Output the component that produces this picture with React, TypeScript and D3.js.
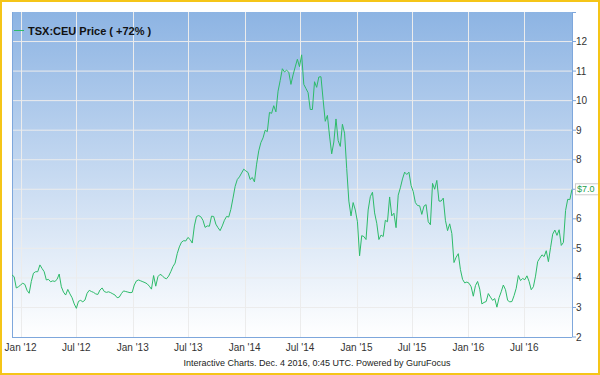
import React from "react";
import * as d3 from "d3";

// weekly closes, TSX:CEU, Dec 2011 - Dec 2016
const prices = [
  4.10, 4.04, 3.66, 3.70, 3.76, 3.82, 3.78, 3.58, 3.48, 3.88,
  4.16, 4.21, 4.21, 4.44, 4.32, 4.21, 3.93, 3.95, 3.87, 3.90,
  3.88, 3.95, 4.13, 3.70, 3.52, 3.42, 3.61, 3.46, 3.33, 3.12,
  2.97, 3.21, 3.24, 3.19, 3.25, 3.48, 3.58, 3.54, 3.51, 3.46,
  3.44, 3.59, 3.66, 3.54, 3.51, 3.53, 3.50, 3.46, 3.42, 3.33,
  3.35, 3.47, 3.56, 3.54, 3.52, 3.50, 3.51, 3.76, 3.90, 3.93,
  3.90, 3.87, 3.84, 3.80, 3.72, 3.62, 4.08, 3.72, 4.04, 4.12,
  4.08, 4.00, 3.97, 4.06, 4.21, 4.38, 4.50, 4.82, 5.05, 5.21,
  5.26, 5.25, 5.37, 5.30, 5.18, 5.76, 6.08, 6.11, 6.07, 5.95,
  5.71, 5.76, 5.75, 6.09, 6.08, 5.82, 5.70, 5.60, 5.76, 5.95,
  6.08, 6.06, 6.32, 6.70, 7.10, 7.33, 7.42, 7.55, 7.68, 7.62,
  7.57, 7.33, 7.40, 7.25, 7.85, 8.30, 8.58, 8.74, 9.00, 8.95,
  9.60, 9.57, 9.83, 9.62, 10.32, 10.68, 11.08, 10.97, 11.03, 10.96,
  10.55, 10.87, 11.14, 11.40, 11.15, 11.55, 10.55, 10.41, 10.27, 9.70,
  9.70, 10.64, 10.45, 10.80, 10.81, 10.03, 9.30, 9.50, 8.80, 8.20,
  8.60, 9.38, 8.65, 8.45, 9.20, 8.90, 7.70, 6.60, 6.10, 6.55,
  6.30, 5.90, 4.75, 5.43, 5.40, 5.30, 6.30, 6.75, 6.90, 6.20,
  5.85, 5.30, 5.45, 5.40, 5.95, 5.90, 6.74, 6.10, 6.19, 5.70,
  6.80, 7.05, 7.35, 7.58, 7.50, 7.58, 7.13, 6.92, 6.55, 6.45,
  6.44, 6.15, 6.43, 6.48, 5.90, 5.80, 7.20, 7.00, 7.30, 6.60,
  6.60, 6.70, 5.95, 5.60, 5.83, 5.50, 4.52, 4.70, 4.82, 4.28,
  3.95, 3.83, 3.86, 3.82, 3.70, 3.38, 3.74, 3.88, 3.62, 3.12,
  3.17, 3.20, 3.47, 3.35, 3.24, 3.30, 3.01, 3.33, 3.53, 3.76,
  3.60, 3.24, 3.19, 3.20, 3.40, 3.65, 4.08, 3.91, 3.98, 3.94,
  4.07, 3.88, 3.60, 3.70, 4.06, 4.55, 4.67, 4.78, 4.72, 4.92,
  4.55, 5.02, 5.48, 5.62, 5.44, 5.63, 5.10, 5.20, 6.28, 6.66,
  6.65, 7.00,
];

const xTickDates = [
  "2012-01-01", "2012-07-01", "2013-01-01", "2013-07-01", "2014-01-01",
  "2014-07-01", "2015-01-01", "2015-07-01", "2016-01-01", "2016-07-01",
];
const xTickLabels = [
  "Jan '12", "Jul '12", "Jan '13", "Jul '13", "Jan '14",
  "Jul '14", "Jan '15", "Jul '15", "Jan '16", "Jul '16",
];
const yTicks = [2, 3, 4, 5, 6, 7, 8, 9, 10, 11, 12];

const legendLabel = "TSX:CEU Price ( +72% )";
const lastLabel = "$7.0";
const footer = "Interactive Charts. Dec. 4 2016, 0:45 UTC. Powered by GuruFocus";

const W = 600;
const H = 375;
const plot = { left: 12, right: 572, top: 12, bottom: 337 };
const font = "'Liberation Sans', Arial, sans-serif";
const green = "#2dbb6a";

export default function App() {
  const start = new Date(2011, 11, 4);
  const end = new Date(2016, 11, 4);
  const dates = d3.timeWeek.range(start, d3.timeDay.offset(end, 1));
  const data = prices.map((p, i) => ({ date: dates[i], price: p }));

  const x = d3.scaleTime().domain([start, end]).range([plot.left, plot.right]);
  const y = d3.scaleLinear().domain([2, 13]).range([plot.bottom, plot.top]);

  const line = d3
    .line<{ date: Date; price: number }>()
    .x((d) => x(d.date))
    .y((d) => y(d.price));

  const parse = d3.timeParse("%Y-%m-%d");
  const last = data[data.length - 1];

  return (
    <svg
      width={W}
      height={H}
      style={{ position: "absolute", left: 0, top: 0, fontFamily: font }}
    >
      <defs>
        <linearGradient id="bg" x1="0" y1="0" x2="0" y2="1">
          <stop offset="0%" stopColor="#8db4e3" />
          <stop offset="100%" stopColor="#ffffff" />
        </linearGradient>
      </defs>
      <rect x={0} y={0} width={W} height={H} fill="#fff" />
      <rect
        x={plot.left}
        y={plot.top}
        width={plot.right - plot.left}
        height={plot.bottom - plot.top}
        fill="url(#bg)"
      />

      {/* grid */}
      {yTicks.slice(1).map((t) => (
        <line
          key={"gy" + t}
          x1={plot.left}
          x2={plot.right}
          y1={y(t)}
          y2={y(t)}
          stroke="#ececec"
          strokeWidth={1}
        />
      ))}
      {xTickDates.map((d) => (
        <line
          key={"gx" + d}
          x1={Math.round(x(parse(d)!)) + 0.5}
          x2={Math.round(x(parse(d)!)) + 0.5}
          y1={plot.top}
          y2={plot.bottom}
          stroke="#ececec"
          strokeWidth={1}
        />
      ))}

      {/* frame */}
      <line x1={plot.left + 0.5} x2={plot.left + 0.5} y1={plot.top} y2={plot.bottom} stroke="#7ea7dc" />
      <line x1={plot.left} x2={plot.right} y1={plot.bottom + 0.5} y2={plot.bottom + 0.5} stroke="#7ea7dc" />
      <line x1={plot.right + 0.5} x2={plot.right + 0.5} y1={plot.top} y2={plot.bottom} stroke="#7ea7dc" />

      {/* series */}
      <path d={line(data) ?? ""} fill="none" stroke={green} strokeWidth={1} />

      {/* y axis */}
      {yTicks.map((t) => (
        <g key={"ty" + t}>
          <line x1={plot.right} x2={plot.right + 4} y1={y(t)} y2={y(t)} stroke="#7ea7dc" />
          <text x={plot.right + 4} y={y(t)} dy="0.35em" fontSize={10} fill="#333">
            {t}
          </text>
        </g>
      ))}
      <line x1={plot.right} x2={plot.right + 4} y1={plot.top + 0.5} y2={plot.top + 0.5} stroke="#7ea7dc" />

      {/* x axis labels */}
      {xTickDates.map((d, i) => (
        <text
          key={"tx" + d}
          x={x(parse(d)!)}
          y={351}
          textAnchor="middle"
          fontSize={10}
          fill="#333"
        >
          {xTickLabels[i]}
        </text>
      ))}

      {/* last price box */}
      <rect
        x={plot.right + 3.5}
        y={y(last.price) - 5.5}
        width={26}
        height={11}
        fill="#fff"
        stroke="#cccccc"
      />
      <text x={plot.right + 5} y={y(last.price)} dy="0.35em" fontSize={9} fill="#1a9d4a">
        {lastLabel}
      </text>

      {/* legend */}
      <line x1={14} x2={24} y1={30.5} y2={30.5} stroke={green} strokeWidth={1} />
      <text x={28} y={35} fontSize={11} fontWeight="bold" fill="#111">
        {legendLabel}
      </text>

      <text x={317} y={366} textAnchor="middle" fontSize={9} fill="#222">
        {footer}
      </text>

      {/* outer border */}
      <rect x={1} y={1} width={W - 2} height={H - 2} fill="none" stroke="#f5c518" strokeWidth={2} />
    </svg>
  );
}
